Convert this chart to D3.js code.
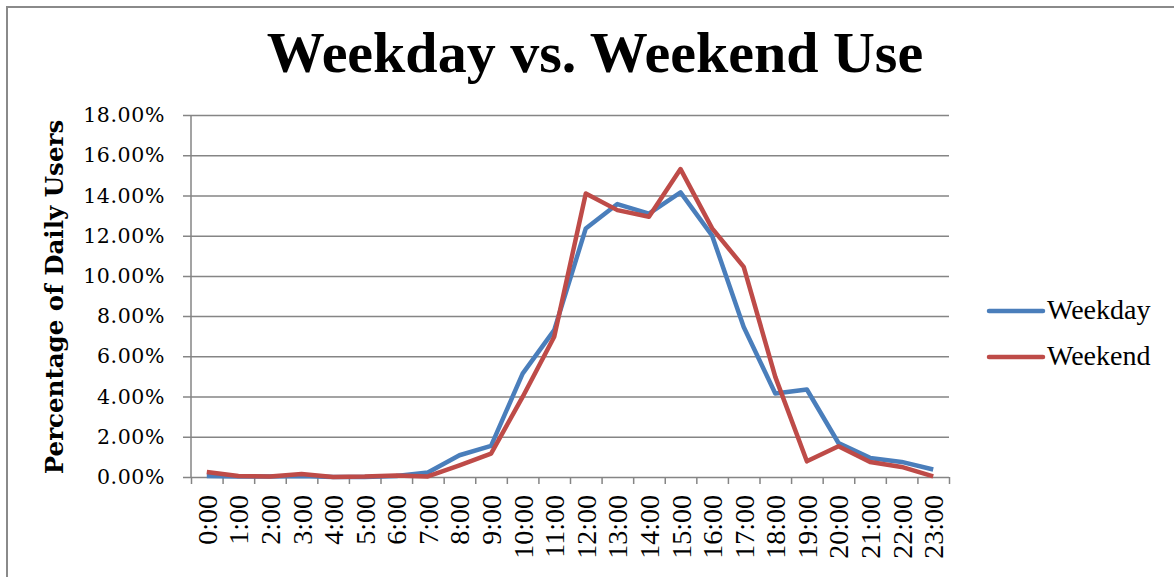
<!DOCTYPE html>
<meta charset="utf-8">
<script src="https://d3js.org/d3.v7.min.js"></script>
<style>
    body { margin: 0; background: #fff; }
    .serif { font-family: "Liberation Serif", "Times New Roman", serif; }
    .georgia { font-family: "DejaVu Serif", Georgia, serif; }
</style>
<div id="chart"></div>
<script>
    // hours of the day (x categories)
    var hours = ["0:00", "1:00", "2:00", "3:00", "4:00", "5:00", "6:00", "7:00", "8:00", "9:00", "10:00", "11:00",
        "12:00", "13:00", "14:00", "15:00", "16:00", "17:00", "18:00", "19:00", "20:00", "21:00", "22:00", "23:00"];

    // percentage of daily users
    var weekday = [0.05, 0.03, 0.02, 0.05, 0.0, 0.0, 0.05, 0.22, 1.08, 1.55, 5.14, 7.3,
        12.36, 13.57, 13.1, 14.15, 12.0, 7.46, 4.15, 4.35, 1.69, 0.95, 0.75, 0.37];
    var weekend = [0.25, 0.05, 0.02, 0.15, 0.0, 0.02, 0.08, 0.03, 0.58, 1.16, 3.98, 6.97,
        14.1, 13.27, 12.94, 15.31, 12.36, 10.45, 4.98, 0.78, 1.53, 0.75, 0.5, 0.03];

    var yTicks = [0, 2, 4, 6, 8, 10, 12, 14, 16, 18];
    var seriesNames = ["Weekday", "Weekend"];
    var seriesColors = ["#4A7EBB", "#BE4B48"];

    var W = 1174, H = 577;
    var margin = { top: 115, left: 191 },
        width = 758,
        height = 362;

    var svg = d3.select("#chart")
        .append("svg")
        .attr("width", W)
        .attr("height", H);

    // outer chart border (runs off the right and bottom edges)
    svg.append("rect")
        .attr("x", 7).attr("y", 7)
        .attr("width", W + 20).attr("height", H + 20)
        .attr("fill", "none")
        .attr("stroke", "#8a8a8a")
        .attr("stroke-width", 2);

    svg.append("text")
        .attr("class", "serif")
        .attr("x", 595)
        .attr("y", 72)
        .attr("text-anchor", "middle")
        .style("font-size", "58px")
        .style("font-weight", "bold")
        .text("Weekday vs. Weekend Use");

    var g = svg.append("g")
        .attr("transform", "translate(" + margin.left + "," + margin.top + ")");

    var y = d3.scaleLinear().domain([0, 18]).range([height, 0]);
    var x = d3.scaleBand().domain(hours).range([0, width]);
    var xb = d3.scaleLinear().domain([0, hours.length]).range([0, width]);

    // y axis with gridlines
    var yAxis = g.append("g")
        .call(d3.axisLeft(y)
            .tickValues(yTicks)
            .tickSize(-width)
            .tickPadding(26)
            .tickFormat(function (d) { return d.toFixed(2) + "%"; }));
    yAxis.select(".domain").remove();
    yAxis.selectAll("line")
        .attr("x1", -8)
        .attr("stroke", "#858585")
        .attr("stroke-width", 1.5);
    yAxis.selectAll("text")
        .attr("class", "georgia")
        .attr("fill", "#000")
        .style("font-size", "20.5px")
        .style("letter-spacing", "0.6px");

    g.append("line")
        .attr("x1", 0).attr("x2", 0)
        .attr("y1", 0).attr("y2", height)
        .attr("stroke", "#858585")
        .attr("stroke-width", 1.5);

    // x axis tick marks between categories
    var xAxis = g.append("g")
        .attr("transform", "translate(0," + height + ")")
        .call(d3.axisBottom(xb)
            .tickValues(d3.range(hours.length + 1))
            .tickSize(7)
            .tickFormat(""));
    xAxis.select(".domain").remove();
    xAxis.selectAll("line")
        .attr("stroke", "#858585")
        .attr("stroke-width", 1.5);

    // rotated hour labels
    g.selectAll(".hour")
        .data(hours)
        .enter()
        .append("text")
        .attr("class", "serif hour")
        .attr("transform", function (d) {
            return "translate(" + (x(d) + x.bandwidth() / 2 + 10) + "," + (height + 18) + ")rotate(-90)";
        })
        .attr("text-anchor", "end")
        .style("font-size", "28px")
        .text(function (d) { return d; });

    // lines
    var line = d3.line()
        .x(function (d, i) { return x(hours[i]) + x.bandwidth() / 2; })
        .y(function (d) { return y(d); });

    [weekday, weekend].forEach(function (s, i) {
        g.append("path")
            .datum(s)
            .attr("fill", "none")
            .attr("stroke", seriesColors[i])
            .attr("stroke-width", 4.5)
            .attr("stroke-linejoin", "round")
            .attr("d", line);
    });

    // y axis title
    svg.append("text")
        .attr("class", "georgia")
        .attr("transform", "translate(63,297)rotate(-90)")
        .attr("text-anchor", "middle")
        .style("font-size", "24.5px")
        .style("font-weight", "bold")
        .text("Percentage of Daily Users");

    // legend
    var legend = svg.append("g")
        .attr("transform", "translate(989,311)");
    seriesNames.forEach(function (name, i) {
        legend.append("line")
            .attr("x1", 0).attr("x2", 54)
            .attr("y1", i * 46).attr("y2", i * 46)
            .attr("stroke", seriesColors[i])
            .attr("stroke-width", 4.5)
            .attr("stroke-linecap", "round");
        legend.append("text")
            .attr("class", "serif")
            .attr("x", 58)
            .attr("y", i * 46 + 8)
            .style("font-size", "28px")
            .text(name);
    });
</script>
